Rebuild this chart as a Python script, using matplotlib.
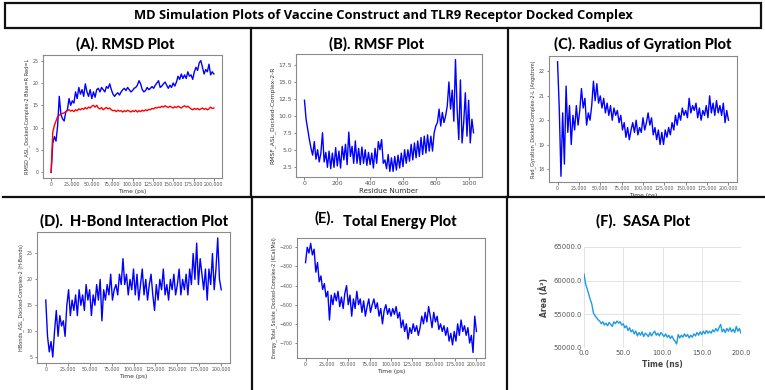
import numpy as np
import matplotlib
matplotlib.use("Agg")
import matplotlib.pyplot as plt
from matplotlib.lines import Line2D
from matplotlib.patches import Rectangle
from matplotlib.ticker import FuncFormatter, FormatStrFormatter, MultipleLocator

# ---------------- data ----------------
rmsd_blue = [0.0, 6.5, 8.0, 7.0, 10.5, 17.0, 13.0, 12.0, 11.5, 13.5, 14.0, 16.5, 15.0, 16.0, 15.5,
             18.0, 16.5, 19.0, 17.5, 18.5, 17.0, 19.8, 18.0, 17.0, 18.5, 16.5, 18.0, 16.8, 18.5, 18.8,
             18.0, 19.0, 18.5, 18.0, 19.2, 18.8, 19.8, 18.5, 17.5, 17.0, 17.5, 17.8, 17.3, 18.0, 18.5,
             18.8, 18.3, 19.0, 18.5, 18.0, 18.3, 18.8, 19.0, 19.5, 20.5, 19.8, 18.5, 18.0, 18.3, 19.0,
             18.5, 18.8, 19.2, 18.8, 19.5, 20.0, 20.5, 19.0, 19.3, 19.8, 20.2, 19.5, 18.8, 19.5, 19.0,
             20.0, 19.3, 20.2, 21.5, 20.8, 22.0, 21.0, 21.8, 21.0, 22.5, 21.5, 21.8, 20.8, 22.5, 23.5,
             22.8, 24.5, 25.0, 23.5, 22.0, 23.0, 22.5, 24.2, 21.8, 22.5, 22.0]
rmsd_red = [0.0, 9.0, 10.5, 11.5, 12.5, 12.8, 13.0, 13.2, 13.3, 13.6, 13.8, 14.0, 13.7, 13.9, 13.6,
            14.0, 13.8, 14.2, 14.0, 14.3, 14.1, 14.5, 14.2, 14.6, 14.4, 14.8, 15.0, 14.6, 15.0, 14.4,
            14.2, 14.5, 14.0, 14.3, 14.5, 14.2, 14.4, 14.0, 13.8, 13.9, 13.6, 13.9, 13.7, 13.8, 13.5,
            13.8, 13.6, 13.9, 13.7, 13.5, 13.8, 13.6, 13.9, 13.5, 13.8, 13.6, 13.9, 13.7, 14.0, 13.8,
            14.1, 14.0, 14.3, 14.2, 14.5, 14.4, 14.6, 14.5, 14.8, 14.6, 14.9, 14.7, 14.5, 14.8, 14.6,
            14.4, 14.7, 14.5, 14.8, 14.6, 14.4, 14.7, 14.9, 14.6, 14.8, 14.5, 14.2, 14.0, 14.3, 14.1,
            14.3, 14.0, 14.2, 14.4, 14.1, 14.3, 14.0, 14.2, 14.6, 14.3, 14.4]
time_ps = np.linspace(0, 200000, len(rmsd_blue))

rmsf = [12.3, 9.5, 8.0, 6.5, 5.2, 4.2, 6.2, 3.6, 5.0, 3.2, 4.5, 7.5, 3.2, 4.6, 2.4, 4.8, 2.2, 4.5,
        2.4, 5.3, 2.6, 4.8, 2.3, 5.5, 3.5, 5.8, 2.8, 7.6, 4.0, 5.5, 3.0, 6.3, 3.0, 5.2, 2.8, 5.4,
        3.0, 5.0, 2.7, 4.6, 2.8, 4.5, 2.3, 5.2, 3.0, 6.2, 5.0, 6.5, 3.0, 3.5, 2.2, 4.3, 1.8, 3.8,
        1.8, 4.0, 2.0, 4.2, 2.3, 4.5, 2.5, 5.0, 3.0, 5.0, 3.3, 5.8, 3.5, 6.0, 3.8, 6.3, 4.0, 6.8,
        4.3, 7.0, 4.5, 7.2, 4.8, 7.0, 4.8, 7.5, 8.5, 9.0, 11.0, 8.5, 10.5, 9.0, 10.0, 11.5, 15.0,
        11.0, 13.8, 9.2, 18.3, 11.0, 6.5, 15.3, 6.0, 9.0, 13.4, 7.0, 12.3, 6.0, 9.5, 7.5]
residues = np.linspace(0, 1030, len(rmsf))

rgyr = [22.4, 20.5, 17.7, 20.3, 18.2, 21.4, 19.5, 20.6, 19.0, 20.2, 19.6, 20.6, 19.8, 20.4, 21.3,
        20.5, 20.9, 19.8, 20.3, 20.0, 20.6, 21.6, 20.8, 21.5, 20.7, 21.0, 20.5, 20.9, 20.3, 20.7,
        20.2, 20.6, 20.0, 20.5, 20.2, 20.4, 19.9, 20.2, 19.6, 19.9, 19.3, 19.7, 19.2, 19.6, 19.9,
        19.5, 20.0, 19.4, 19.7, 19.5, 20.1, 19.6, 19.9, 20.3, 19.8, 20.1, 19.4, 19.7, 19.2, 19.6,
        19.0, 19.5, 19.0, 19.6, 19.3, 19.7, 19.4, 19.9, 19.6, 20.2, 19.8, 20.3, 20.0, 20.5, 20.2,
        20.4, 20.1, 20.9, 20.3, 20.6, 20.4, 20.7, 20.1, 20.5, 20.0, 20.4, 20.2, 20.6, 20.1, 21.0,
        20.3, 20.7, 20.2, 20.8, 20.3, 20.6, 20.2, 20.7, 19.9, 20.4, 20.0]

hbonds = [16, 9, 6, 8, 5, 10, 14, 9, 13, 11, 12, 9, 15, 18, 13, 16, 14, 17, 13, 18, 15, 17, 14, 19,
          16, 18, 13, 17, 15, 19, 16, 20, 12, 18, 16, 19, 17, 21, 16, 18, 19, 17, 21, 19, 24, 19,
          21, 17, 20, 18, 22, 17, 21, 16, 19, 22, 17, 20, 16, 19, 21, 17, 14, 19, 16, 20, 18, 22,
          17, 19, 16, 20, 18, 21, 17, 19, 22, 17, 20, 18, 21, 17, 22, 19, 25, 20, 27, 19, 24, 21,
          18, 22, 16, 22, 19, 25, 18, 22, 28, 20, 18]

energy = [-280, -200, -230, -180, -240, -210, -330, -280, -380, -350, -420, -390, -460, -430, -580,
          -450, -500, -440, -480, -430, -510, -460, -520, -440, -400, -500, -450, -560, -470, -520,
          -430, -500, -470, -540, -480, -560, -510, -470, -540, -500, -470, -520, -490, -560, -520,
          -600, -530, -500, -550, -520, -560, -520, -550, -510, -570, -540, -620, -580, -640, -600,
          -680, -620, -650, -600, -640, -610, -660, -620, -560, -600, -540, -590, -510, -560, -620,
          -540, -590, -560, -630, -600, -640, -610, -660, -620, -690, -650, -710, -640, -690, -600,
          -660, -580, -640, -610, -660, -620, -700, -660, -750, -560, -640]

sasa = [61000, 59500, 58800, 58000, 57200, 56500, 55200, 54800, 54500, 54200, 54000, 53600, 53900,
        53400, 53700, 53300, 53800, 53500, 53200, 53900, 53600, 54000, 53700, 53900, 53400, 53600,
        53000, 53300, 52600, 53000, 52400, 52700, 52100, 52500, 51800, 52300, 51900, 52400, 51700,
        52200, 52000, 51700, 52300, 51800, 52200, 52500, 51900, 52200, 51800, 52300, 52000, 51700,
        52100, 51600, 51900, 51400, 51800, 51300, 51000, 50600, 52000, 51500, 51900, 51600, 52100,
        51700, 52000, 51500, 51900, 51600, 52100, 51800, 52300, 51900, 52400, 52000, 52500, 52100,
        52600, 52200, 52500, 52200, 52700, 52400, 52900, 52500, 53000, 53500, 52400, 52800, 52300,
        52900, 52500, 53000, 52400, 52800, 52300, 53200, 52500, 52900, 52200]
time_ns = np.linspace(0, 200, len(sasa))

main_title = "MD Simulation Plots of Vaccine Construct and TLR9 Receptor Docked Complex"
panel_titles = ["(A). RMSD Plot", "(B). RMSF Plot", "(C). Radius of Gyration Plot",
                "(D).  H-Bond Interaction Plot", "Total Energy Plot", "(F).  SASA Plot"]

# ---------------- figure ----------------
W, H = 765, 390
fig = plt.figure(figsize=(W / 100, H / 100), dpi=100)
fig.patch.set_facecolor("white")


def px_axes(l, r, t, b):
    return fig.add_axes([l / W, 1 - b / H, (r - l) / W, (b - t) / H])


def fline(x0, y0, x1, y1, lw=1.6):
    fig.add_artist(Line2D([x0 / W, x1 / W], [1 - y0 / H, 1 - y1 / H], color="#111111", lw=lw,
                          transform=fig.transFigure))


# frame / grid lines
fig.add_artist(Rectangle((5 / W, 1 - 28 / H), 756 / W, 25 / H, fill=False, ec="#111111", lw=1.6,
                         transform=fig.transFigure))
fline(251, 28, 251, 197)
fline(508, 28, 508, 197)
fline(3, 197, 765, 197)
fline(252, 197, 252, 390)
fline(507, 197, 507, 390)

fig.text(383 / W, 1 - 16 / H, main_title, ha="center", va="center", fontsize=9.3,
         fontweight="bold", family="Open Sans", fontstretch="condensed")

TFONT = dict(fontsize=10.5, fontweight="black", family="Lato", ha="center", va="center")
fig.text(125 / W, 1 - 44 / H, panel_titles[0], **TFONT)
fig.text(377 / W, 1 - 44 / H, panel_titles[1], **TFONT)
fig.text(643 / W, 1 - 44 / H, panel_titles[2], **TFONT)
fig.text(134 / W, 1 - 221 / H, panel_titles[3], **TFONT)
fig.text(324 / W, 1 - 218 / H, "(E).", fontsize=10.5, fontweight="bold", family="Lato",
         ha="center", va="center")
fig.text(400 / W, 1 - 222 / H, panel_titles[4], **TFONT)
fig.text(643 / W, 1 - 221 / H, panel_titles[5], **TFONT)

comma = FuncFormatter(lambda v, p: "{:,.0f}".format(v))
TICK = 3.4
LAB = 4.3


def style(ax):
    for s in ax.spines.values():
        s.set_color("#8a8a8a")
        s.set_linewidth(0.8)
    ax.tick_params(labelsize=TICK, length=1.8, width=0.5, colors="#555555", pad=1.2)


# (A)
ax = px_axes(43, 222, 55, 178)
ax.plot(time_ps, rmsd_blue, color="blue", lw=1.0)
ax.plot(time_ps, rmsd_red, color="red", lw=1.0)
ax.xaxis.set_major_locator(MultipleLocator(25000))
ax.xaxis.set_major_formatter(comma)
ax.set_yticks([0, 5, 10, 15, 20, 25])
ax.set_xlabel("Time (ps)", fontsize=LAB, labelpad=1, color="#333333")
ax.set_ylabel("RMSD_ASL_Docked-Complex-2 Blue=R Red=L", fontsize=LAB * 0.85, labelpad=2, color="#333333")
style(ax)

# (B)
ax = px_axes(296, 482, 54, 177)
ax.plot(residues, rmsf, color="blue", lw=1.0)
ax.set_xticks([0, 200, 400, 600, 800, 1000])
ax.set_yticks([2.5, 5.0, 7.5, 10.0, 12.5, 15.0, 17.5])
ax.yaxis.set_major_formatter(FormatStrFormatter("%.1f"))
ax.set_xlabel("Residue Number", fontsize=LAB + 0.8, labelpad=1, color="#333333")
ax.set_ylabel("RMSF_ASL_Docked-Complex-2-R", fontsize=LAB, labelpad=2, color="#333333")
style(ax)
ax.tick_params(labelsize=TICK + 1.0)

# (C)
ax = px_axes(549, 737, 56, 182)
ax.plot(time_ps, rgyr, color="blue", lw=1.0)
ax.xaxis.set_major_locator(MultipleLocator(25000))
ax.xaxis.set_major_formatter(comma)
ax.set_yticks([18, 19, 20, 21, 22])
ax.set_xlabel("Time (ps)", fontsize=LAB, labelpad=1, color="#333333")
ax.set_ylabel("Rad_Gyration_Docked-Complex-2-L (Angstrom)", fontsize=LAB * 0.85, labelpad=2, color="#333333")
style(ax)

# (D)
ax = px_axes(37, 230, 232, 363)
ax.plot(time_ps, hbonds, color="blue", lw=1.0)
ax.xaxis.set_major_locator(MultipleLocator(25000))
ax.xaxis.set_major_formatter(comma)
ax.set_yticks([5, 10, 15, 20, 25])
ax.set_xlabel("Time (ps)", fontsize=LAB, labelpad=1, color="#333333")
ax.set_ylabel("HBonds_ASL_Docked-Complex-2 (H-Bonds)", fontsize=LAB * 0.85, labelpad=2, color="#333333")
style(ax)

# (E)
ax = px_axes(297, 485, 238, 358)
ax.plot(time_ps, energy, color="blue", lw=1.0)
ax.xaxis.set_major_locator(MultipleLocator(25000))
ax.xaxis.set_major_formatter(comma)
ax.set_yticks([-700, -600, -500, -400, -300, -200])
ax.set_xlabel("Time (ps)", fontsize=LAB, labelpad=1, color="#333333")
ax.set_ylabel("Energy_Total_Solute_Docked-Complex-2 (KCal/Mol)", fontsize=LAB * 0.8, labelpad=2, color="#333333")
style(ax)

# (F)
ax = px_axes(584, 741, 247, 348)
ax.plot(time_ns, sasa, color="#1e9be0", lw=1.0)
ax.set_xlim(0, 200)
ax.set_ylim(50000, 65000)
ax.set_xticks([0, 50, 100, 150, 200])
ax.set_yticks([50000, 55000, 60000, 65000])
ax.xaxis.set_major_formatter(FormatStrFormatter("%.1f"))
ax.yaxis.set_major_formatter(FormatStrFormatter("%.1f"))
ax.grid(True, color="#e3e3e3", lw=0.7)
ax.set_axisbelow(True)
for s in ax.spines.values():
    s.set_visible(False)
ax.tick_params(labelsize=4.9, length=0, colors="#555555", pad=1.5)
ax.set_xlabel("Time (ns)", fontsize=5.5, fontweight="bold", color="#444444", labelpad=3)
ax.set_ylabel("Area (Å²)", fontsize=5.5, fontweight="bold", color="#444444", labelpad=3)

fig.savefig("out.png", dpi=100)
